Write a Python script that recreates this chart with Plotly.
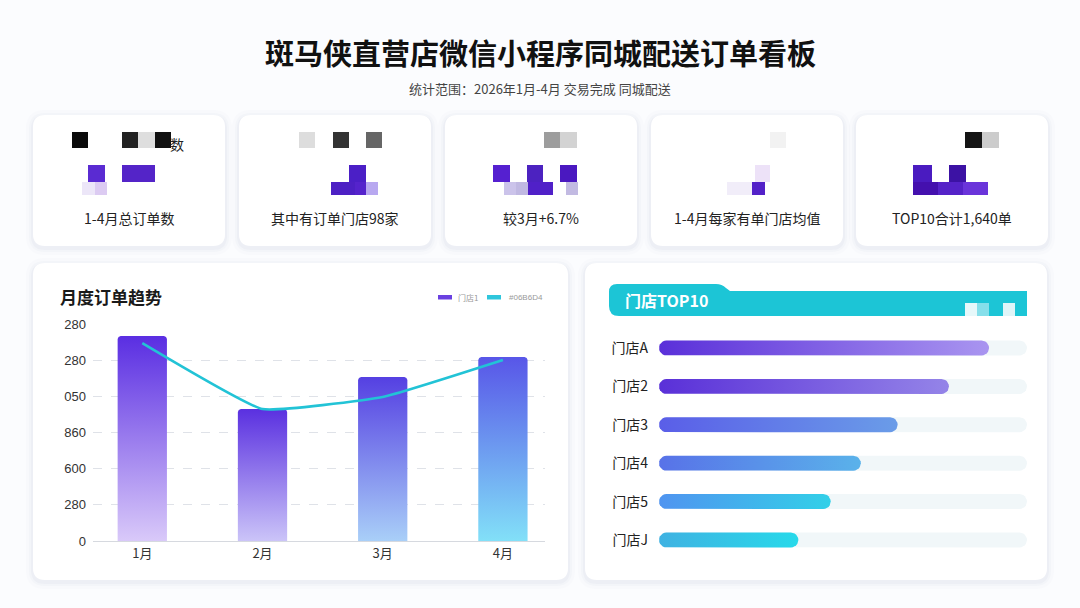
import math
import plotly.graph_objects as go

# ---------------- data ----------------
months = ["1月", "2月", "3月", "4月"]
orders_bar = [1700, 1095, 1360, 1526]
orders_line = [1642, 1095, 1194, 1501]
y_tick_vals = [0, 300, 600, 900, 1200, 1500, 1800]
y_tick_text = ["0", "280", "600", "860", "050", "280", "280"]

stores = ["门店A", "门店2", "门店3", "门店4", "门店5", "门店J"]
store_orders = [296, 260, 214, 181, 154, 125]
store_axis_max = 330

kpi_labels = ["1-4月总订单数", "其中有订单门店98家", "较3月+6.7%", "1-4月每家有单门店均值", "TOP10合计1,640单"]

title = "斑马侠直营店微信小程序同城配送订单看板"
subtitle = "统计范围：2026年1月-4月 交易完成 同城配送"
legend_names = ["门店1", "#06B6D4"]

# ---------------- helpers ----------------
W, H = 1080, 608
FONT = "Liberation Sans, Noto Sans CJK SC, sans-serif"
CJK = "Noto Sans CJK SC, sans-serif"


def px(x):
    return x / W


def py(y):
    return 1 - y / H


def rrect(x0, y0, x1, y1, r):
    pts = (
        f"M {px(x0 + r)},{py(y0)} L {px(x1 - r)},{py(y0)} Q {px(x1)},{py(y0)} {px(x1)},{py(y0 + r)} "
        f"L {px(x1)},{py(y1 - r)} Q {px(x1)},{py(y1)} {px(x1 - r)},{py(y1)} "
        f"L {px(x0 + r)},{py(y1)} Q {px(x0)},{py(y1)} {px(x0)},{py(y1 - r)} "
        f"L {px(x0)},{py(y0 + r)} Q {px(x0)},{py(y0)} {px(x0 + r)},{py(y0)} Z"
    )
    return pts


shapes = []
annotations = []


def note(x, y, text, size, color, family=CJK, xanchor="center"):
    annotations.append(dict(x=px(x), y=py(y), xref="paper", yref="paper", text=text, showarrow=False,
                            xanchor=xanchor, yanchor="middle",
                            font=dict(family=family, size=size, color=color)))


def card(x0, y0, x1, y1, r=12):
    for grow, alpha in [(7, 0.022), (4, 0.03), (2, 0.045)]:
        shapes.append(dict(type="path", xref="paper", yref="paper",
                           path=rrect(x0 - grow, y0 - grow + 2, x1 + grow, y1 + grow + 2, r + grow),
                           fillcolor=f"rgba(110,120,170,{alpha})", line=dict(width=0), layer="below"))
    shapes.append(dict(type="path", xref="paper", yref="paper", path=rrect(x0, y0, x1, y1, r),
                       fillcolor="#ffffff", line=dict(width=0), layer="below"))


def block(x0, y0, x1, y1, color):
    shapes.append(dict(type="rect", xref="paper", yref="paper", x0=px(x0), x1=px(x1), y0=py(y1), y1=py(y0),
                       fillcolor=color, line=dict(width=0), layer="above"))


# ---------------- cards ----------------
card_x = [33, 239, 445, 651, 856]
card_w = 192
for cx, lab in zip(card_x, kpi_labels):
    card(cx, 115, cx + card_w, 246)
    note(cx + card_w / 2, 218, lab, 14, "#222222")

card(33, 263, 568, 580)
card(585, 263, 1047, 580)

# obscured (mosaic) KPI values
mosaic = [
    (72, 132, 88, 148, "#0a0a0a"), (122, 132, 138, 148, "#222222"), (138, 132, 155, 148, "#dedede"),
    (155, 132, 171, 148, "#111111"),
    (88, 165, 105, 182, "#5a2bd2"), (122, 165, 155, 182, "#5424c8"),
    (82, 182, 95, 195, "#ece6f8"), (95, 182, 107, 195, "#dccbf2"),
    (299, 132, 315, 148, "#dddddd"), (333, 132, 349, 148, "#333333"), (366, 132, 382, 148, "#666666"),
    (349, 165, 366, 182, "#4b1fc6"), (331, 182, 355, 195, "#4d20c4"), (355, 182, 366, 195, "#5523cc"),
    (366, 182, 378, 195, "#b8a8f0"),
    (544, 132, 560, 148, "#9d9d9d"), (560, 132, 577, 148, "#d3d3d3"),
    (493, 165, 510, 182, "#5520d0"), (527, 165, 543, 182, "#4c22c0"), (560, 165, 577, 182, "#4a18c0"),
    (504, 182, 516, 195, "#cbc3ea"), (516, 182, 528, 195, "#c0b8e2"), (528, 182, 553, 195, "#5020c8"),
    (566, 182, 578, 195, "#c2bae2"),
    (770, 132, 786, 148, "#f2f2f2"), (755, 165, 770, 182, "#ede2f8"),
    (727, 182, 752, 195, "#f1edf9"), (752, 182, 765, 195, "#5321c8"),
    (965, 132, 982, 148, "#151515"), (982, 132, 999, 148, "#cccccc"),
    (913, 165, 932, 182, "#4a1bc0"), (949, 165, 966, 182, "#3c12a4"),
    (913, 182, 938, 195, "#4410ae"), (938, 182, 963, 195, "#5522c8"), (963, 182, 988, 195, "#6a34da"),
]
for m in mosaic:
    block(*m)
note(177, 144, "数", 14, "#222222")

# ---------------- titles ----------------
note(540, 52, f"<b>{title}</b>", 29, "#111111")
note(540, 88, subtitle, 13, "#444444")
note(58, 296, "<b>月度订单趋势</b>", 17, "#1a1a1a", xanchor="left")

# legend (chart 1)
block(438, 295, 452, 299.5, "#6a40e0")
block(487, 295, 501, 299.5, "#2fc6dc")
note(456, 297, legend_names[0], 8, "#999999", xanchor="left")
note(507, 297, legend_names[1], 8, "#999999", family=FONT, xanchor="left")

# TOP10 header banner
hdr = (f"M {px(609 + 8)},{py(284)} L {px(716)},{py(284)} Q {px(722)},{py(284)} {px(726)},{py(288)} "
       f"L {px(730)},{py(291)} L {px(1027)},{py(291)} L {px(1027)},{py(316)} L {px(619)},{py(316)} "
       f"Q {px(609)},{py(316)} {px(609)},{py(306)} L {px(609)},{py(292)} Q {px(609)},{py(284)} {px(617)},{py(284)} Z")
shapes.append(dict(type="path", xref="paper", yref="paper", path=hdr, fillcolor="#1cc5d6",
                   line=dict(width=0), layer="above"))
block(965, 303, 977, 316, "#e6f8fa")
block(977, 303, 989, 316, "#86dfea")
block(1003, 303, 1015, 316, "#dff5f8")
note(623, 300, "<b>门店TOP10</b>", 16, "#ffffff", xanchor="left")

# ---------------- chart 1: vertical bars + line ----------------
fig = go.Figure()

bar_w = 0.41
x_unit_px = 120.3
y_unit_px = 217 / 1800
bar_bottom = ["#d9c9f9", "#cbc4f8", "#a9cff8", "#82e0f8"]
bar_top = ["#5a2ee2", "#5a30e0", "#5540e2", "#5856e8"]
rx = 3 / x_unit_px
ry = 3 / y_unit_px
for i, v in enumerate(orders_bar):
    x0, x1 = i - bar_w / 2, i + bar_w / 2
    xs = [x0, x0, x0 + rx * 0.3, x0 + rx, x1 - rx, x1 - rx * 0.3, x1, x1, x0]
    ys = [0, v - ry, v - ry * 0.3, v, v, v - ry * 0.3, v - ry, 0, 0]
    fig.add_trace(go.Scatter(
        x=xs, y=ys, mode="lines", fill="toself", line=dict(width=0, color="rgba(0,0,0,0)"),
        fillgradient=dict(type="vertical", start=0, stop=v,
                          colorscale=[[0, bar_bottom[i]], [1, bar_top[i]]]),
        hoverinfo="skip", showlegend=False, xaxis="x", yaxis="y"))

fig.add_trace(go.Scatter(x=list(range(len(months))), y=orders_line, mode="lines",
                         line=dict(color="#22c3d6", width=2.6, shape="spline", smoothing=0.35),
                         showlegend=False, hoverinfo="skip", xaxis="x", yaxis="y"))

# ---------------- chart 2: horizontal bars ----------------
row_px = 38.4
hx_unit = store_axis_max / 368  # data units per px
r_px = 7.5


def stadium(v, row):
    r_x = r_px * hx_unit
    r_y = r_px / row_px
    xs, ys = [], []
    for k in range(13):
        a = -math.pi / 2 + math.pi * k / 12
        xs.append(v - r_x + r_x * math.cos(a))
        ys.append(row + r_y * math.sin(a))
    for k in range(13):
        a = math.pi / 2 + math.pi * k / 12
        xs.append(r_x + r_x * math.cos(a))
        ys.append(row + r_y * math.sin(a))
    xs.append(xs[0])
    ys.append(ys[0])
    return xs, ys


for i in range(len(stores)):
    xs, ys = stadium(store_axis_max, i)
    fig.add_trace(go.Scatter(x=xs, y=ys, mode="lines", fill="toself", fillcolor="#f1f7f9",
                             line=dict(width=0, color="rgba(0,0,0,0)"), hoverinfo="skip",
                             showlegend=False, xaxis="x2", yaxis="y2"))

h_left = ["#5a2fd9", "#5a30d8", "#5a5ee8", "#5872e8", "#5094f0", "#3fb2e2"]
h_right = ["#a995f0", "#9484e8", "#6a9ce8", "#5ab2ea", "#32d0e8", "#27d9ea"]
for i, v in enumerate(store_orders):
    xs, ys = stadium(v, i)
    fig.add_trace(go.Scatter(x=xs, y=ys, mode="lines", fill="toself",
                             line=dict(width=0, color="rgba(0,0,0,0)"),
                             fillgradient=dict(type="horizontal", start=0, stop=v,
                                               colorscale=[[0, h_left[i]], [1, h_right[i]]]),
                             hoverinfo="skip", showlegend=False, xaxis="x2", yaxis="y2"))

# ---------------- layout ----------------
fig.update_layout(
    width=W, height=H, autosize=False,
    margin=dict(l=0, r=0, t=0, b=0, pad=0, autoexpand=False),
    paper_bgcolor="#fbfcfe", plot_bgcolor="rgba(0,0,0,0)",
    shapes=shapes, annotations=annotations, showlegend=False,
    font=dict(family=FONT, size=13, color="#333333"),
    xaxis=dict(domain=[px(93), px(545)], range=[-0.41, 3.35], tickvals=list(range(len(months))),
               ticktext=months, showgrid=False, zeroline=False, showline=True, linecolor="#d6d9df",
               linewidth=1, ticks="", tickfont=dict(family=CJK, size=13, color="#333333"),
               fixedrange=True, automargin=False),
    yaxis=dict(domain=[py(541), py(324)], range=[0, 1800], tickvals=y_tick_vals, ticktext=y_tick_text,
               showgrid=True, gridcolor="#dfe2e8", griddash="dash", gridwidth=1, zeroline=False,
               ticks="", ticklabelstandoff=6, tickfont=dict(family=FONT, size=13, color="#333333"),
               fixedrange=True, automargin=False),
    xaxis2=dict(domain=[px(659), px(1027)], range=[0, store_axis_max], visible=False, anchor="y2",
                fixedrange=True, automargin=False),
    yaxis2=dict(domain=[py(348 + 5.5 * row_px), py(348 - 0.5 * row_px)], range=[5.5, -0.5],
                tickvals=list(range(len(stores))), ticktext=stores, showgrid=False, zeroline=False,
                showline=False, ticks="", anchor="x2", ticklabelstandoff=10, automargin=False,
                tickfont=dict(family=CJK, size=14, color="#222222"), fixedrange=True),
)

fig.write_html(
    "out.html",
    config={"displayModeBar": False},
    post_script=(
        "var d=document.getElementById('{plot_id}');"
        "d.style.position='fixed';d.style.top='0px';d.style.left='0px';"
        "document.documentElement.style.margin='0';document.documentElement.style.overflow='hidden';"
        "document.body.style.margin='0';document.body.style.padding='0';document.body.style.overflow='hidden';"
    ),
)
